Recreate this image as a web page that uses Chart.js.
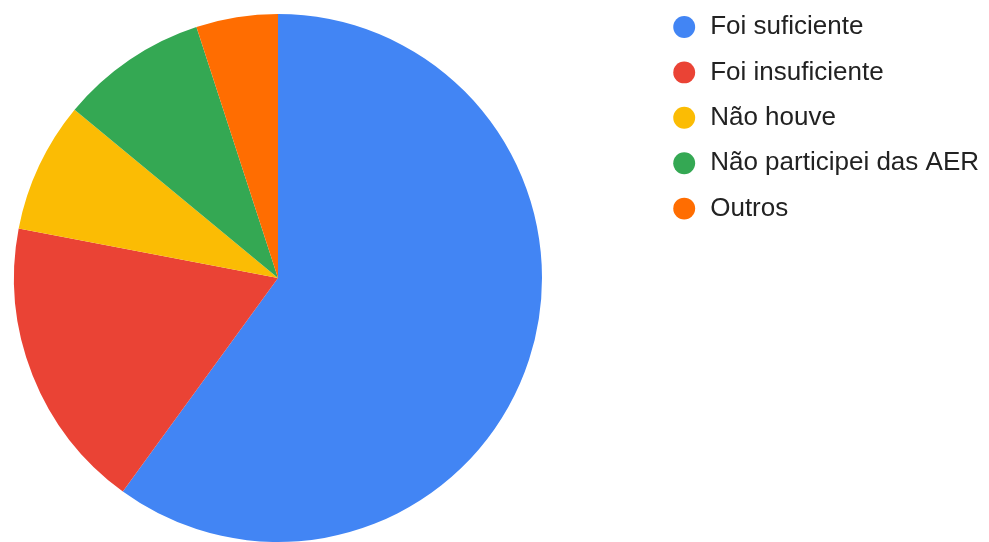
<!DOCTYPE html>
<html>
<head>
<meta charset="utf-8">
<script src="https://cdn.jsdelivr.net/npm/chart.js@4"></script>
<style>
  html, body { margin: 0; padding: 0; background: #fff; }
  #wrap { width: 989px; height: 542px; }
</style>
</head>
<body>
<div id="wrap"><canvas id="pieChart" width="989" height="542"></canvas></div>
<script>
const labels = ['Foi suficiente', 'Foi insuficiente', 'Não houve', 'Não participei das AER', 'Outros'];
const values = [60, 18, 8, 9, 5];
const colors = ['#4285F4', '#EA4335', '#FBBC04', '#34A853', '#FF6D01'];

// Chart.js centres the pie in the space the legend leaves; the original
// keeps the pie at the left and leaves the gap before the legend
const snugLayout = {
  id: 'snugLayout',
  afterLayout(chart) {
    const area = chart.chartArea;
    area.width = area.height;
    area.right = area.left + area.height;
    // first legend row starts on the top padding line
    chart.legend.top -= chart.legend.options.labels.padding;
  }
};

const ctx = document.getElementById('pieChart').getContext('2d');
const pieChart = new Chart(ctx, {
  type: 'pie',
  data: {
    labels: labels,
    datasets: [{
      data: values,
      backgroundColor: colors,
      borderWidth: 0,
    }]
  },
  options: {
    responsive: false,
    animation: false,
    layout: { padding: { top: 14, left: 14, bottom: 0, right: 0 } },
    plugins: {
      tooltip: { enabled: false },
      legend: {
        display: true,
        position: 'right',
        align: 'start',
        labels: {
          usePointStyle: true,
          pointStyle: 'circle',
          boxWidth: 26,
          boxHeight: 15.5,
          padding: 19.4,
          color: '#222222',
          font: { family: 'Liberation Sans, Arial, sans-serif', size: 26 }
        }
      }
    }
  },
  plugins: [snugLayout]
});
</script>
</body>
</html>
